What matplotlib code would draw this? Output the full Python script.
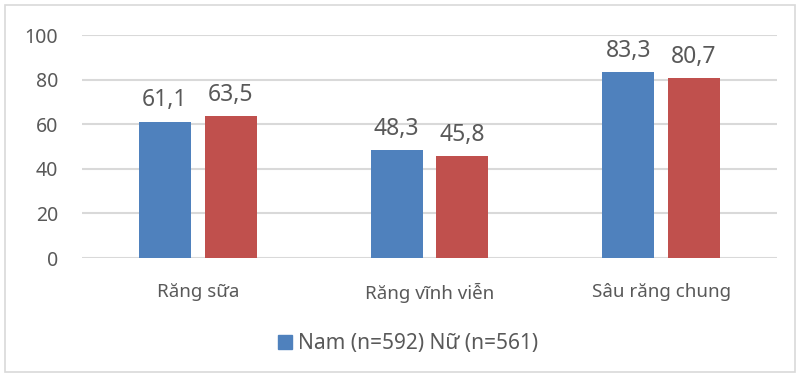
import matplotlib.pyplot as plt
import matplotlib.patches as mpatches
import numpy as np

plt.rcParams['font.family'] = ['Noto Sans', 'DejaVu Sans']

# --- Data ---
categories = ["Răng sữa", "Răng vĩnh viễn", "Sâu răng chung"]
nam = [61.1, 48.3, 83.3]
nu = [63.5, 45.8, 80.7]
legend_label = "Nam (n=592) Nữ (n=561)"

blue = "#4F81BD"
red = "#C0504D"
text_grey = "#595959"
grid_grey = "#D9D9D9"

# --- Figure ---
fig = plt.figure(figsize=(8, 3.77), dpi=100)
ax = fig.add_axes([0.1025, 0.3156, 0.8688, 0.5915])

x = np.arange(len(categories))
w = 0.224
gap = 0.06
b1 = ax.bar(x - (w + gap) / 2, nam, w, color=blue, zorder=3)
b2 = ax.bar(x + (w + gap) / 2, nu, w, color=red, zorder=3)

# value labels above bars
for bars, vals in [(b1, nam), (b2, nu)]:
    for rect, v in zip(bars, vals):
        ax.annotate(f"{v:.1f}".replace(".", ","),
                    (rect.get_x() + rect.get_width() / 2, v),
                    xytext=(0, 11), textcoords="offset points",
                    ha="center", va="baseline", fontsize=16.5, color=text_grey)

ax.set_xlim(-0.5, 2.5)
ax.set_ylim(0, 100)
ax.set_yticks(range(0, 101, 20))
ax.set_xticks(x)
ax.set_xticklabels(categories)
ax.tick_params(axis="both", length=0, colors=text_grey)
ax.tick_params(axis="y", labelsize=14, pad=17)
ax.tick_params(axis="x", labelsize=13.5, pad=18)
ax.yaxis.grid(True, color=grid_grey, linewidth=1.5, zorder=0)
for s in ax.spines.values():
    s.set_visible(False)

# legend with only the first marker shown
handle = mpatches.Patch(color=blue)
fig.legend([handle], [legend_label], loc="center", bbox_to_anchor=(0.51, 0.088),
           frameon=False, fontsize=15, labelcolor=text_grey,
           handlelength=0.7, handleheight=0.7, handletextpad=0.3)

# outer chart border
fig.patches.append(mpatches.Rectangle((0.006, 0.012), 0.988, 0.976,
                                      transform=fig.transFigure, fill=False,
                                      edgecolor=grid_grey, linewidth=1.2))

fig.savefig("out.png", dpi=100)
